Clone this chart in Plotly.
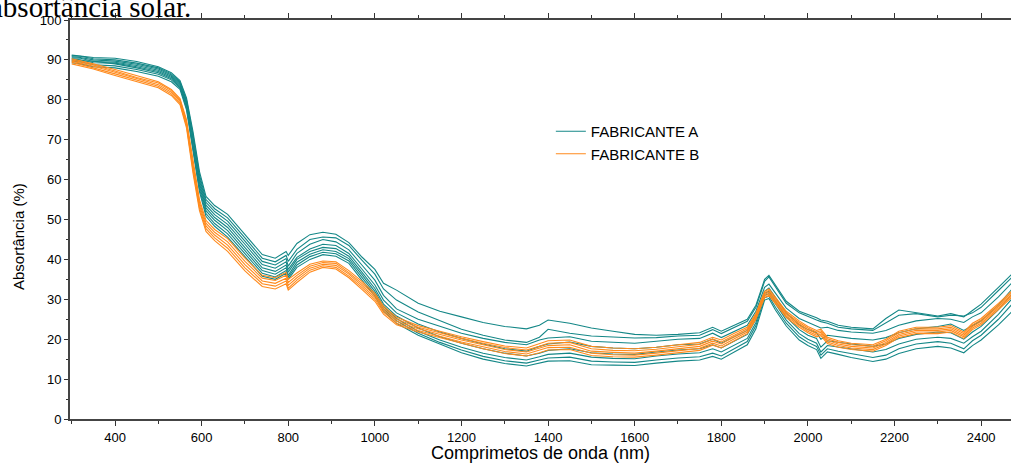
import plotly.graph_objects as go

# Wavelength grid (nm)
wavelength = [300, 320, 350, 400, 450, 500, 530, 550, 565, 580,
              595, 610, 630, 660, 700, 740, 770, 795, 800, 820,
              850, 880, 910, 940, 970, 1000, 1020, 1050, 1100, 1150,
              1200, 1250, 1300, 1350, 1380, 1400, 1450, 1500, 1550, 1600,
              1650, 1700, 1750, 1780, 1800, 1830, 1860, 1880, 1900, 1910,
              1925, 1950, 1980, 2000, 2020, 2030, 2045, 2070, 2100, 2150,
              2180, 2210, 2250, 2300, 2330, 2360, 2380, 2400, 2440, 2470]

# FABRICANTE A (teal) samples
fab_a_1 = [91.2, 91.0, 90.6, 90.4, 89.6, 88.3, 86.8, 84.8, 80.5, 72.0,
           62.0, 55.8, 53.5, 51.3, 46.3, 41.2, 40.3, 42.0, 41.0, 44.0,
           46.2, 46.8, 46.3, 44.2, 40.6, 37.5, 34.0, 32.3, 29.0, 27.0,
           25.6, 24.2, 23.2, 22.6, 23.5, 24.8, 24.0, 22.8, 22.0, 21.2,
           21.0, 21.2, 21.6, 23.0, 22.0, 23.5, 25.0, 28.5, 35.0, 36.0,
           33.5, 29.5, 27.0, 26.2, 25.4, 24.8, 24.5, 23.5, 23.0, 22.6,
           25.2, 27.3, 26.6, 25.8, 26.4, 25.6, 27.2, 28.8, 33.0, 36.2]
fab_a_2 = [91.0, 90.9, 90.3, 90.0, 89.2, 88.0, 86.5, 84.5, 80.0, 71.3,
           61.2, 55.0, 52.7, 50.4, 45.4, 40.3, 39.4, 41.0, 39.5, 42.5,
           45.0, 45.6, 45.4, 43.5, 39.8, 36.3, 32.6, 29.8, 26.8, 24.6,
           22.5, 21.0, 19.8, 19.2, 20.5, 22.5, 21.5, 20.8, 20.5, 20.3,
           20.4, 20.8, 21.0, 22.4, 21.4, 23.0, 24.5, 28.0, 34.5, 35.6,
           33.0, 29.0, 26.6, 25.6, 24.8, 24.4, 24.0, 23.0, 22.6, 22.2,
           24.0, 26.0, 26.4, 25.6, 26.0, 25.8, 26.6, 28.0, 32.2, 35.4]
fab_a_3 = [90.8, 90.6, 90.0, 89.7, 88.9, 87.7, 86.2, 84.2, 79.6, 70.7,
           60.5, 54.3, 52.0, 49.6, 44.6, 39.5, 38.6, 40.2, 38.3, 41.5,
           43.8, 45.0, 44.4, 42.4, 38.6, 34.8, 31.0, 27.6, 25.0, 23.2,
           21.5, 20.2, 19.2, 18.6, 19.8, 20.3, 20.6, 19.5, 19.2, 19.0,
           19.5, 20.0, 20.2, 21.5, 20.4, 22.0, 23.5, 27.0, 33.0, 33.8,
           31.5, 27.8, 25.2, 24.2, 23.4, 22.8, 23.0, 22.2, 21.8, 21.5,
           22.2, 23.5, 24.6, 25.2, 25.0, 24.2, 25.6, 26.6, 30.6, 34.0]
fab_a_4 = [90.5, 90.4, 89.6, 89.4, 88.6, 87.4, 85.9, 83.9, 79.2, 70.1,
           59.8, 53.6, 51.2, 48.8, 43.8, 38.7, 37.8, 39.4, 37.5, 40.5,
           42.6, 43.8, 43.5, 41.5, 37.6, 33.6, 29.8, 26.6, 23.8, 21.8,
           20.2, 18.8, 17.6, 17.0, 18.2, 18.8, 19.3, 18.2, 17.8, 17.6,
           18.0, 18.6, 18.8, 20.0, 19.0, 20.6, 22.2, 26.0, 32.0, 32.8,
           30.4, 26.6, 23.6, 22.4, 21.6, 20.0, 21.0, 20.6, 20.2, 19.8,
           20.4, 21.6, 22.6, 23.2, 23.8, 22.2, 23.4, 24.6, 28.6, 32.4]
fab_a_5 = [90.3, 90.0, 89.3, 89.2, 88.3, 87.1, 85.6, 83.6, 78.8, 69.5,
           59.1, 52.9, 50.5, 48.0, 43.0, 37.9, 37.0, 38.6, 36.8, 40.0,
           42.0, 43.0, 42.7, 40.8, 36.8, 32.7, 28.8, 25.8, 22.8, 20.6,
           19.0, 17.6, 16.5, 15.8, 16.5, 17.2, 17.6, 16.6, 16.3, 16.2,
           16.8, 17.3, 17.6, 18.6, 17.8, 19.6, 21.2, 25.0, 31.5, 32.0,
           29.6, 25.6, 22.4, 21.0, 20.2, 18.0, 19.6, 19.2, 18.8, 18.2,
           18.8, 20.2, 21.2, 21.8, 21.6, 20.0, 21.8, 23.2, 27.4, 31.2]
fab_a_6 = [90.0, 89.8, 89.7, 89.0, 88.0, 86.8, 85.3, 83.3, 78.4, 68.9,
           58.4, 52.2, 49.8, 47.2, 42.2, 37.2, 36.3, 37.9, 36.0, 39.3,
           41.3, 42.4, 42.0, 40.2, 36.2, 32.0, 28.2, 25.2, 22.0, 19.8,
           18.0, 16.5, 15.4, 14.8, 15.6, 16.2, 16.5, 15.5, 15.2, 15.1,
           15.8, 16.3, 16.6, 17.6, 16.8, 18.6, 20.2, 24.2, 31.0, 31.4,
           28.8, 24.8, 21.4, 20.0, 19.0, 16.8, 18.4, 18.0, 17.6, 16.8,
           17.4, 18.8, 20.0, 20.5, 20.2, 19.0, 20.6, 22.0, 26.2, 30.0]
fab_a_7 = [89.7, 89.5, 88.8, 88.5, 87.6, 86.4, 85.0, 83.0, 78.0, 68.3,
           57.7, 51.5, 49.0, 46.4, 41.4, 36.5, 35.6, 37.2, 35.5, 38.6,
           40.7, 41.8, 41.4, 39.6, 35.5, 31.4, 27.6, 24.6, 21.5, 19.2,
           17.3, 15.7, 14.6, 14.0, 14.8, 15.3, 15.5, 14.5, 14.3, 14.2,
           14.8, 15.3, 15.6, 16.5, 15.8, 17.6, 19.4, 23.4, 30.4, 30.8,
           28.0, 24.0, 20.6, 19.2, 18.2, 16.0, 17.6, 17.0, 16.4, 15.4,
           16.0, 17.6, 18.8, 19.4, 19.0, 17.6, 19.6, 21.0, 25.0, 28.6]
fab_a_8 = [89.3, 89.0, 88.3, 88.0, 87.1, 85.9, 84.5, 82.6, 77.5, 67.6,
           57.0, 50.8, 48.3, 45.6, 40.6, 35.8, 35.0, 36.5, 35.0, 38.0,
           40.0, 41.2, 40.8, 39.0, 34.8, 30.8, 27.0, 24.0, 21.0, 18.7,
           16.6, 15.0, 13.9, 13.3, 14.0, 14.5, 14.6, 13.6, 13.5, 13.4,
           14.0, 14.5, 14.8, 15.7, 15.0, 16.8, 18.6, 22.6, 29.8, 30.2,
           27.3, 23.3, 19.8, 18.4, 17.4, 15.2, 16.8, 16.2, 15.4, 14.4,
           15.0, 16.4, 17.6, 18.2, 17.8, 16.6, 18.4, 19.8, 23.6, 26.8]

# FABRICANTE B (orange) samples
fab_b_1 = [90.3, 89.8, 89.0, 87.6, 86.0, 84.5, 82.6, 80.3, 75.0, 64.5,
           55.0, 49.8, 47.5, 45.2, 40.3, 36.0, 35.4, 36.8, 35.0, 36.6,
           38.8, 39.6, 39.4, 37.2, 34.5, 31.5, 28.3, 25.5, 23.4, 22.0,
           20.6, 19.4, 18.3, 17.8, 18.8, 19.6, 19.8, 18.2, 17.8, 17.6,
           18.0, 18.6, 19.2, 20.5, 19.8, 21.5, 23.0, 26.5, 32.0, 32.6,
           30.5, 27.0, 24.6, 23.2, 22.2, 22.5, 20.5, 19.6, 19.0, 18.6,
           20.0, 22.0, 23.0, 23.0, 23.4, 21.8, 24.0, 25.2, 29.0, 32.0]
fab_b_2 = [90.0, 89.5, 88.7, 87.2, 85.6, 84.2, 82.3, 80.0, 74.5, 63.8,
           54.3, 49.1, 46.8, 44.4, 39.5, 35.3, 34.7, 36.0, 34.2, 36.0,
           38.3, 39.2, 39.0, 36.7, 34.0, 31.0, 27.8, 25.0, 23.0, 21.6,
           20.2, 19.0, 17.9, 17.3, 18.2, 19.0, 19.2, 17.6, 17.2, 17.1,
           17.5, 18.1, 18.7, 20.0, 19.3, 21.0, 22.6, 26.2, 31.6, 32.2,
           30.0, 26.6, 24.2, 22.8, 21.8, 22.1, 20.1, 19.2, 18.6, 18.2,
           19.6, 21.6, 22.6, 22.6, 23.0, 21.4, 23.6, 24.8, 28.6, 31.6]
fab_b_3 = [89.7, 89.2, 88.4, 86.9, 85.3, 83.8, 81.9, 79.6, 74.0, 63.1,
           53.6, 48.4, 46.1, 43.6, 38.7, 34.6, 34.0, 35.3, 33.5, 35.4,
           37.8, 38.8, 38.5, 36.3, 33.5, 30.5, 27.3, 24.5, 22.6, 21.2,
           19.8, 18.6, 17.4, 16.8, 17.7, 18.4, 18.6, 17.0, 16.7, 16.5,
           17.0, 17.6, 18.2, 19.5, 18.8, 20.6, 22.2, 25.8, 31.2, 31.8,
           29.6, 26.2, 23.8, 22.4, 21.4, 21.7, 19.7, 18.8, 18.2, 17.8,
           19.2, 21.2, 22.2, 22.2, 22.6, 21.0, 23.2, 24.4, 28.2, 31.2]
fab_b_4 = [89.4, 88.9, 88.0, 86.5, 84.9, 83.4, 81.5, 79.2, 73.5, 62.4,
           52.9, 47.7, 45.4, 42.8, 37.9, 33.9, 33.3, 34.6, 32.8, 34.8,
           37.3, 38.4, 38.0, 35.8, 33.0, 30.0, 26.8, 24.0, 22.2, 20.8,
           19.3, 18.1, 16.9, 16.3, 17.2, 17.9, 18.0, 16.5, 16.1, 16.0,
           16.5, 17.1, 17.7, 19.0, 18.3, 20.1, 21.8, 25.4, 30.8, 31.4,
           29.2, 25.8, 23.4, 22.0, 21.0, 21.3, 19.3, 18.4, 17.8, 17.4,
           18.8, 20.8, 21.8, 21.8, 22.2, 20.6, 22.8, 24.0, 27.8, 30.8]
fab_b_5 = [89.0, 88.5, 87.7, 86.1, 84.5, 83.0, 81.1, 78.8, 73.0, 61.7,
           52.2, 47.0, 44.7, 42.0, 37.1, 33.2, 32.6, 33.9, 32.3, 34.2,
           36.8, 38.0, 37.6, 35.4, 32.5, 29.5, 26.3, 23.6, 21.8, 20.4,
           18.9, 17.6, 16.4, 15.8, 16.6, 17.3, 17.4, 15.9, 15.6, 15.5,
           16.0, 16.6, 17.2, 18.5, 17.8, 19.6, 21.4, 25.0, 30.4, 31.0,
           28.8, 25.4, 23.0, 21.6, 20.6, 20.9, 18.9, 18.0, 17.4, 17.0,
           18.4, 20.4, 21.4, 21.4, 21.8, 20.2, 22.4, 23.6, 27.4, 30.4]

series_a = [fab_a_1, fab_a_2, fab_a_3, fab_a_4, fab_a_5, fab_a_6, fab_a_7, fab_a_8]
series_b = [fab_b_1, fab_b_2, fab_b_3, fab_b_4, fab_b_5]

name_a = "FABRICANTE A"
name_b = "FABRICANTE B"
color_a = "#148787"
color_b = "#ff8a1c"

fig = go.Figure()
for i, ys in enumerate(series_a):
    fig.add_trace(go.Scatter(x=wavelength, y=ys, mode="lines", name=name_a,
                             legendgroup="a", showlegend=(i == 0),
                             line=dict(color=color_a, width=1.1)))
for i, ys in enumerate(series_b):
    fig.add_trace(go.Scatter(x=wavelength, y=ys, mode="lines", name=name_b,
                             legendgroup="b", showlegend=(i == 0),
                             line=dict(color=color_b, width=1.1)))

sans = "Liberation Sans, Arial, sans-serif"
axis_font = dict(family=sans, size=13, color="#000")

fig.update_layout(
    width=1011, height=463,
    margin=dict(l=70, r=0, t=20, b=44),
    paper_bgcolor="white", plot_bgcolor="white",
    showlegend=True,
    legend=dict(x=0.511, y=0.762, xanchor="left", yanchor="top",
                bgcolor="rgba(0,0,0,0)", borderwidth=0,
                font=dict(family=sans, size=15, color="#000"),
                tracegroupgap=0, itemclick=False),
    xaxis=dict(range=[296, 2469], tickmode="array",
               tickvals=[400, 600, 800, 1000, 1200, 1400, 1600, 1800, 2000, 2200, 2400],
               ticks="outside", ticklen=5, tickwidth=1, tickcolor="#333",
               minor=dict(dtick=100, tick0=0, ticks="outside", ticklen=3, tickcolor="#333"),
               showline=True, linecolor="#444", linewidth=2, mirror="ticks",
               showgrid=False, zeroline=False, tickfont=axis_font,
               title=dict(text="Comprimetos de onda (nm)", standoff=2,
                          font=dict(family=sans, size=18, color="#000"))),
    yaxis=dict(range=[0, 100], dtick=10, tick0=0,
               ticks="outside", ticklen=4, tickwidth=1, tickcolor="#333",
               minor=dict(dtick=5, ticks="outside", ticklen=2, tickcolor="#333"),
               showline=True, linecolor="#444", linewidth=2, mirror=False,
               showgrid=False, zeroline=False, tickfont=axis_font),
    annotations=[
        dict(text="absortância solar.", xref="paper", yref="paper",
             x=0.1307, y=0.987, xanchor="right", yanchor="bottom",
             showarrow=False,
             font=dict(family="Liberation Serif, Times New Roman, serif", size=29, color="#000")),
        dict(text="Absortância (%)", xref="paper", yref="paper",
             x=-0.0553, y=0.4586, xanchor="center", yanchor="middle",
             textangle=-90, showarrow=False,
             font=dict(family=sans, size=15, color="#000")),
    ],
)

fig.write_html("out.html", config={"displayModeBar": False},
               post_script="document.body.style.margin='0';document.body.style.overflow='hidden';")
